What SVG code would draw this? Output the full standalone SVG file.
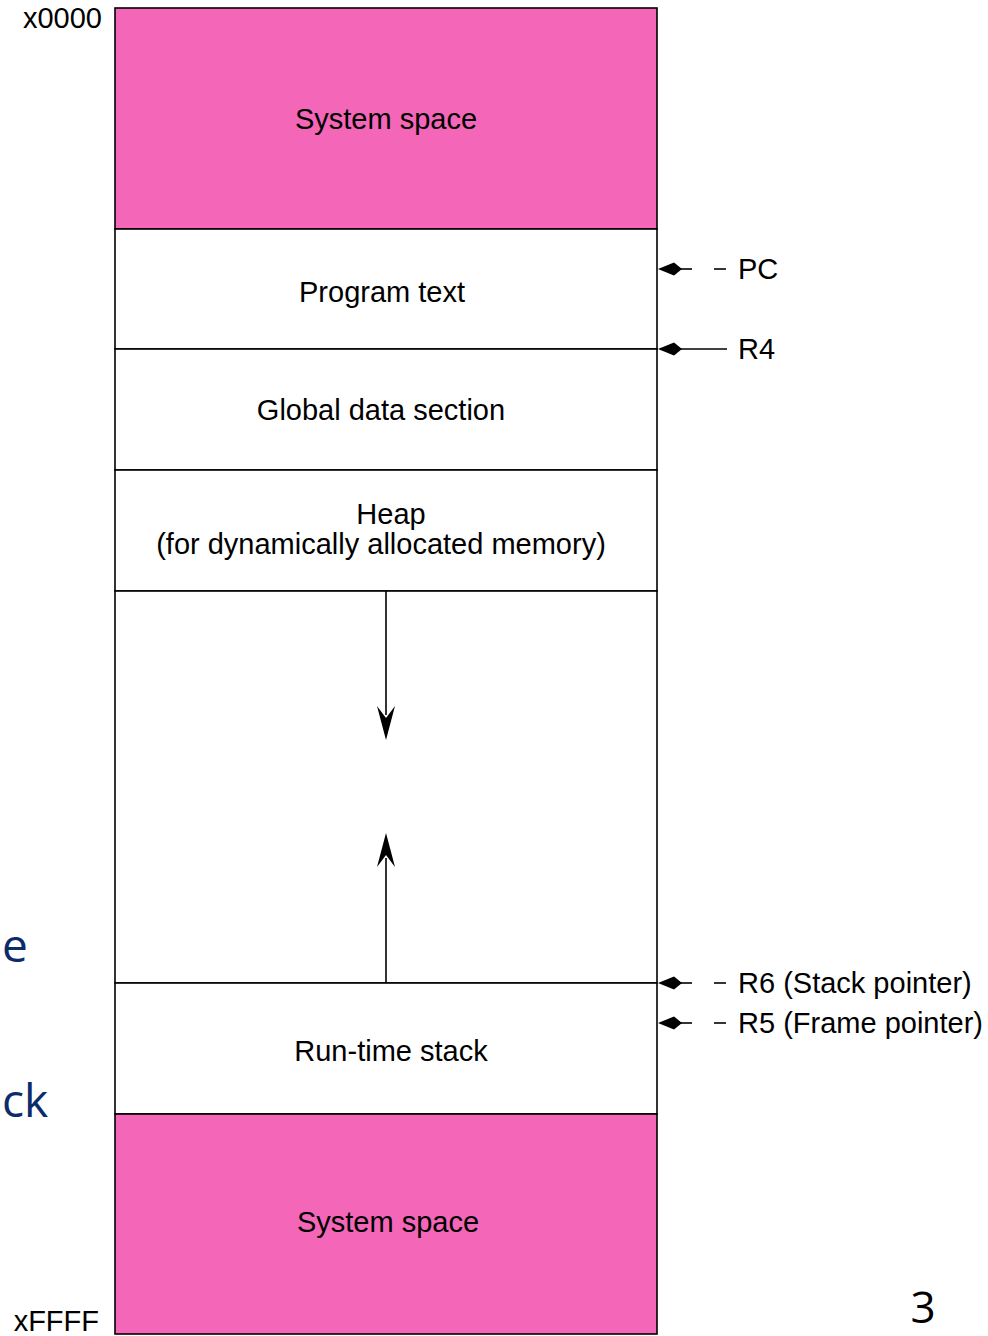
<svg xmlns="http://www.w3.org/2000/svg" width="988" height="1336" viewBox="0 0 988 1336">
<style>
.lbl{font-family:"Liberation Sans",Arial,sans-serif;font-size:29px;fill:#000}
.mid{text-anchor:middle}
.seg{stroke:#000;stroke-width:1.6;fill:#fff}
.pink{fill:#f466b8}
.ln{stroke:#000;stroke-width:1.6;fill:none}
.side{font-family:"Open Sans","DejaVu Sans",sans-serif;font-size:46px}
</style>
<defs>
<path id="dia" d="M0,0 L16,-6.5 L24,0 L16,6.5 Z" fill="#000"/>
</defs>
<rect x="0" y="0" width="988" height="1336" fill="#fff"/>
<g id="sys-top"><rect x="115" y="8" width="542" height="221" class="seg pink"/><text class="lbl mid" x="386" y="129">System space</text></g>
<g id="program-text"><rect x="115" y="229" width="542" height="120" class="seg"/><text class="lbl mid" x="382" y="302">Program text</text></g>
<g id="global-data"><rect x="115" y="349" width="542" height="121" class="seg"/><text class="lbl mid" x="381" y="420">Global data section</text></g>
<g id="heap"><rect x="115" y="470" width="542" height="121" class="seg"/><text class="lbl mid" x="391" y="524">Heap</text><text class="lbl mid" x="381" y="554">(for dynamically allocated memory)</text></g>
<g id="free"><rect x="115" y="591" width="542" height="392" class="seg"/></g>
<g id="stack"><rect x="115" y="983" width="542" height="131" class="seg"/><text class="lbl mid" x="391" y="1061">Run-time stack</text></g>
<g id="sys-bottom"><rect x="115" y="1114" width="542" height="220" class="seg pink"/><text class="lbl mid" x="388" y="1232">System space</text></g>
<g id="connectors">
<line x1="386" y1="591" x2="386" y2="715" class="ln"/>
<path d="M386,740 L377,706 L386,718 L395,706 Z" fill="#000"/>
<line x1="386" y1="983" x2="386" y2="858" class="ln"/>
<path d="M386,833 L377,867 L386,855 L395,867 Z" fill="#000"/>
<g id="ptr-pc"><line x1="670" y1="269" x2="692" y2="269" class="ln"/><use href="#dia" x="658" y="269"/><line x1="714" y1="269" x2="726" y2="269" class="ln"/></g>
<g id="ptr-r4"><line x1="670" y1="349" x2="727" y2="349" class="ln"/><use href="#dia" x="658" y="349"/></g>
<g id="ptr-r6"><line x1="670" y1="983" x2="692" y2="983" class="ln"/><use href="#dia" x="658" y="983"/><line x1="714" y1="983" x2="726" y2="983" class="ln"/></g>
<g id="ptr-r5"><line x1="670" y1="1023" x2="692" y2="1023" class="ln"/><use href="#dia" x="658" y="1023"/><line x1="714" y1="1023" x2="726" y2="1023" class="ln"/></g>
</g>
<text class="lbl" x="738" y="279">PC</text>
<text class="lbl" x="738" y="359">R4</text>
<text class="lbl" x="738" y="993">R6 (Stack pointer)</text>
<text class="lbl" x="738" y="1033">R5 (Frame pointer)</text>
<text class="lbl" x="102" y="28" text-anchor="end">x0000</text>
<text class="lbl" x="99" y="1331" text-anchor="end">xFFFF</text>
<text class="side" x="2" y="962" fill="#0d2b6b">e</text>
<text class="side" x="2" y="1117" fill="#0d2b6b">ck</text>
<text class="side" x="923" y="1323" text-anchor="middle" fill="#000" style="font-size:44px">3</text>
</svg>
